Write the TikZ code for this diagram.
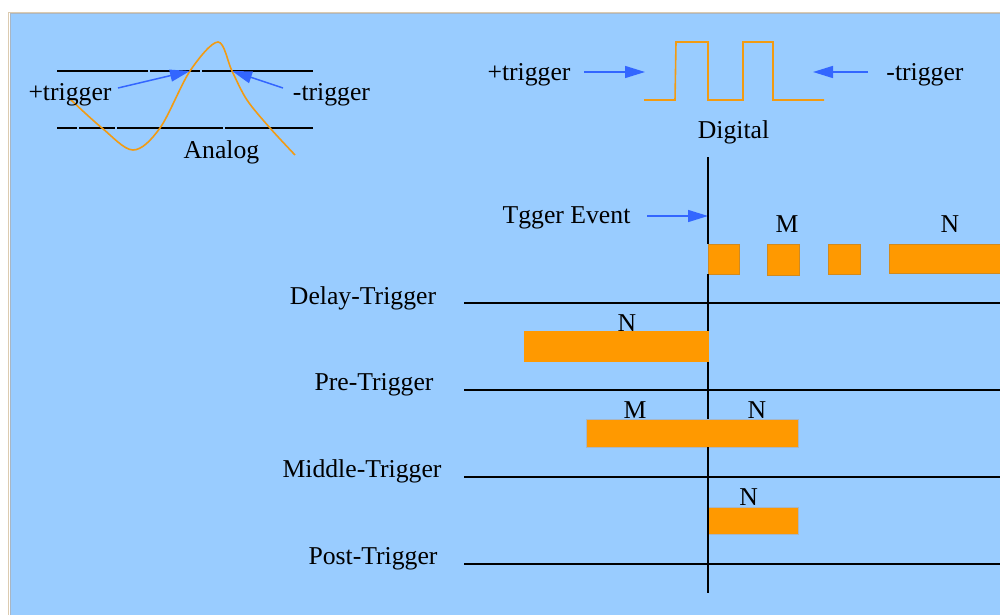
\documentclass[tikz,border=0pt]{standalone}
\usepackage{fontspec}
\setmainfont{Liberation Serif}
\usetikzlibrary{arrows.meta}
\definecolor{bgblue}{HTML}{99CCFF}
\definecolor{arrblue}{HTML}{3366FF}
\definecolor{barorange}{HTML}{FF9900}
\definecolor{curveorange}{HTML}{F29B12}
\definecolor{tanline}{HTML}{DCCBB0}
\definecolor{grayline}{HTML}{A9B6C4}
\definecolor{baredge}{HTML}{D08A20}
\begin{document}
\begin{tikzpicture}[x=0.5pt,y=-0.5pt,
  lbl/.style={inner sep=0pt, text=black, font=\fontsize{12.85}{15}\selectfont},
  barr/.style={arrblue, line width=0.75pt, -{Triangle[length=10pt,width=6pt]}},
  axisline/.style={black, line width=0.8pt},
  wave/.style={curveorange, line width=0.8pt},
  bartop/.style={fill=barorange, draw=baredge, line width=0.3pt},
  barmid/.style={fill=barorange, draw=grayline, line width=0.4pt},
  barplain/.style={fill=barorange}]
\useasboundingbox (0,0) rectangle (1000,615);
% frame
\fill[bgblue] (10,13) rectangle (1000,615);
\draw[tanline, line width=0.6pt] (8.5,615) -- (8.5,12.5) -- (1000,12.5);
\draw[grayline, line width=0.5pt] (10.2,615) -- (10.2,14) -- (1000,14);

% ---------- Analog ----------
\draw[axisline] (57,71) -- (148,71) (150,71) -- (200,71) (202,71) -- (313,71);
\draw[axisline] (57,128) -- (77,128) (79,128) -- (115,128) (117,128) -- (223,128) (225,128) -- (313,128);
\draw[wave] plot[smooth, tension=0.55] coordinates {(70,99) (102,128) (133,150) (160,128) (190,71) (218,42) (232,71) (247,100) (270,128) (295,155)};
\node[lbl] (aplus) at (70,95) {+trigger};
\node[lbl] (aminus) at (331.5,95) {-trigger};
\node[lbl] (analog) at (221.5,152) {Analog};
\coordinate (apS) at (118,88);
\coordinate (apE) at (190,71);
\coordinate (amS) at (283,88);
\coordinate (amE) at (232,71);
\draw[barr] (apS) -- (apE);
\draw[barr] (amS) -- (amE);

% ---------- Digital ----------
\draw[wave] (644,100) -- (675,100) -- (676,42) -- (708,42) -- (708,100) -- (743,100) -- (743,42) -- (773,42) -- (773,100) -- (824,100);
\node[lbl] (dplus) at (529,75) {+trigger};
\node[lbl] (dminus) at (925,75) {-trigger};
\node[lbl] (digital) at (733.5,132) {Digital};
\coordinate (dpS) at (584,72);
\coordinate (dpE) at (645,72);
\coordinate (dmS) at (868,72);
\coordinate (dmE) at (813,72);
\draw[barr] (dpS) -- (dpE);
\draw[barr] (dmS) -- (dmE);

% ---------- Timing ----------
\coordinate (vtop) at (708,157);
\coordinate (vbot) at (708,593);
\node[lbl] (tev) at (566.5,218) {Tgger Event};
\coordinate (tevS) at (647,216);
\coordinate (tevE) at (708,216);
\draw[barr] (tevS) -- (tevE);

% delay row
\draw[bartop] (708,244) rectangle (739,274);
\draw[bartop] (767,244) rectangle (799,275);
\draw[bartop] (828,244) rectangle (860,274);
\draw[bartop] (889,244) rectangle (1002,273);
\node[lbl] (dM) at (787,224) {M};
\node[lbl] (dN) at (950,224) {N};
\node[lbl] (ldelay) at (363,298) {Delay-Trigger};
\coordinate (l1a) at (464,303); \coordinate (l1b) at (1000,303);
\draw[axisline] (l1a) -- (l1b);

% pre row
\fill[barorange] (524,331) rectangle (709,362);
\node[lbl] (pN) at (627,323) {N};
\node[lbl] (lpre) at (374,385) {Pre-Trigger};
\coordinate (l2a) at (464,390); \coordinate (l2b) at (1000,390);
\draw[axisline] (l2a) -- (l2b);

% middle row
\draw[barmid] (586,419) rectangle (798.5,447);
\node[lbl] (mM) at (635,410) {M};
\node[lbl] (mN) at (757,410) {N};
\node[lbl] (lmid) at (362,471) {Middle-Trigger};
\coordinate (l3a) at (464,477); \coordinate (l3b) at (1000,477);
\draw[axisline] (l3a) -- (l3b);

% post row
\draw[barmid] (708.6,507) rectangle (798.5,534);
\node[lbl] (poN) at (748.6,497) {N};
\node[lbl] (lpost) at (373,559) {Post-Trigger};
\coordinate (l4a) at (464,564); \coordinate (l4b) at (1000,564);
\draw[axisline] (l4a) -- (l4b);

% vertical trigger line
\draw[axisline] (vtop) -- (708,244) (708,274) -- (708,331) (708,362) -- (708,419) (708,447) -- (vbot);
\end{tikzpicture}
\end{document}
